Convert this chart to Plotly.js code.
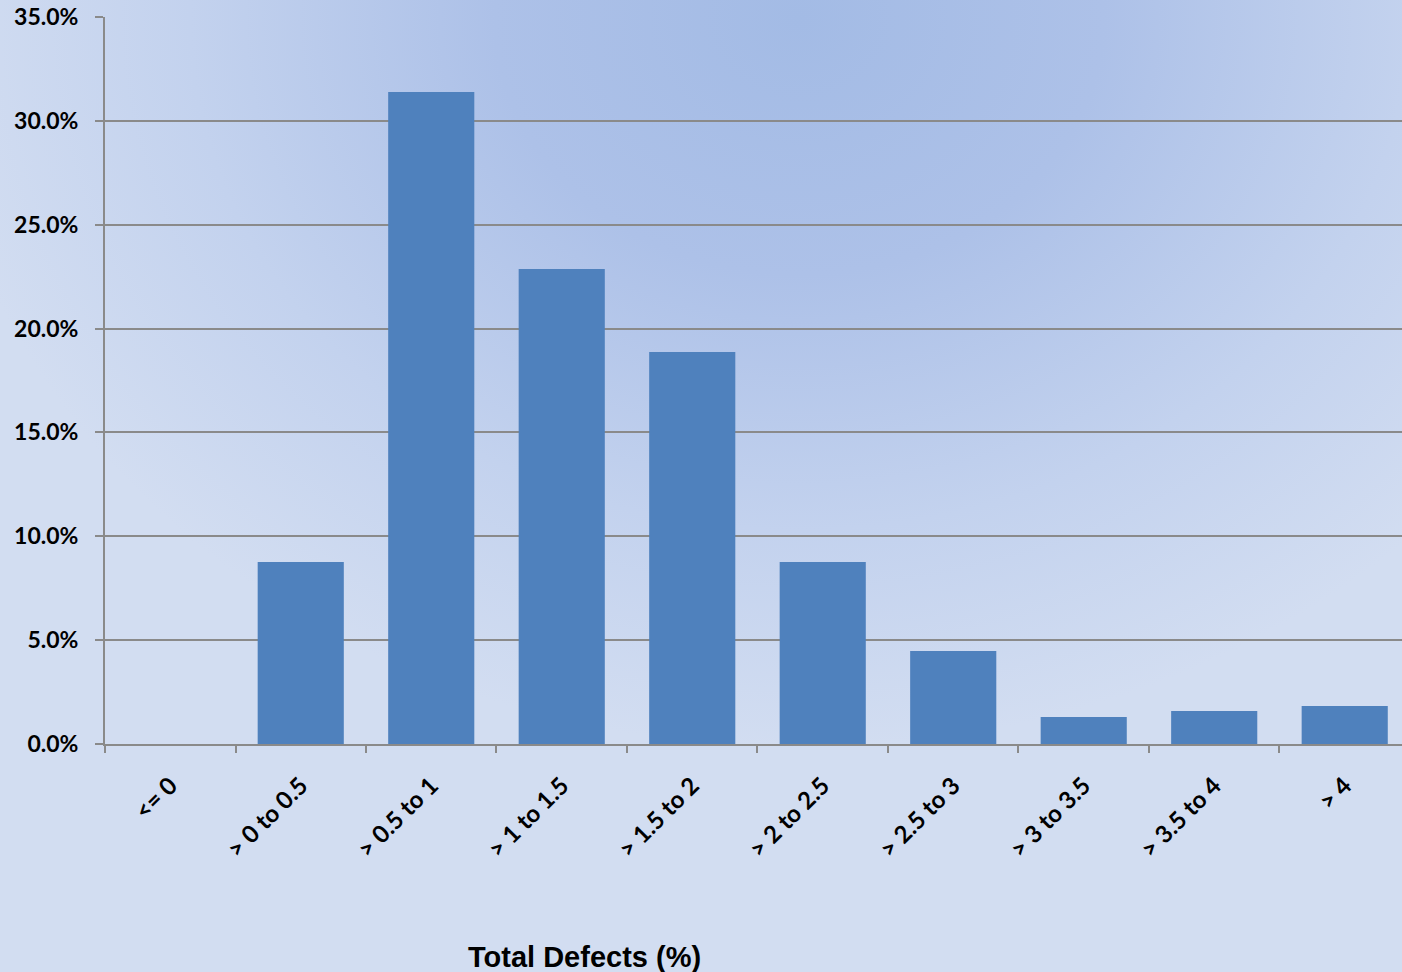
<!DOCTYPE html>
<html>
<head>
<meta charset="utf-8">
<script src="https://cdn.plot.ly/plotly-3.0.1.min.js"></script>
<style>
html, body { margin:0; padding:0; width:1402px; height:972px; overflow:hidden; }
body { background: radial-gradient(ellipse 62% 75% at 57% 2%, #a3bbe5 0%, #adc1e8 35%, #c3d2ee 70%, #d2ddf1 100%); }
#chart { width:1402px; height:972px; }
</style>
</head>
<body>
<div id="chart"></div>
<script>
const categories = ["<= 0", "> 0 to 0.5", "> 0.5 to 1", "> 1 to 1.5", "> 1.5 to 2", "> 2 to 2.5", "> 2.5 to 3", "> 3 to 3.5", "> 3.5 to 4", "> 4"];
const values = [0, 8.76, 31.39, 22.87, 18.87, 8.76, 4.48, 1.30, 1.59, 1.83];
const xTitle = "Total Defects (%)";

const trace = {
  type: 'bar',
  x: categories,
  y: values,
  width: 0.66,
  marker: { color: '#4f81bd' },
  hoverinfo: 'x+y'
};

const tickFontX = { family: 'Lato, "Open Sans", sans-serif', size: 24, color: '#000', weight: 700 };
const tickFontY = { family: 'Lato, "Open Sans", sans-serif', size: 23, color: '#000', weight: 700 };

const layout = {
  width: 1402,
  height: 972,
  margin: { l: 105, r: 0, t: 17, b: 228 },
  paper_bgcolor: 'rgba(0,0,0,0)',
  plot_bgcolor: 'rgba(0,0,0,0)',
  showlegend: false,
  xaxis: {
    type: 'category',
    range: [-0.5, 9.439],
    tickangle: -45,
    tickson: 'boundaries',
    ticks: 'outside',
    ticklen: 7,
    tickwidth: 2,
    tickcolor: '#8a8a8a',
    ticklabelstandoff: 16,
    showline: true,
    linecolor: '#8a8a8a',
    linewidth: 2,
    showgrid: false,
    zeroline: false,
    tickfont: tickFontX
  },
  yaxis: {
    range: [0, 35],
    dtick: 5,
    tickformat: '.1f',
    ticksuffix: '%',
    ticks: 'outside',
    ticklen: 8,
    tickwidth: 2,
    tickcolor: '#8a8a8a',
    ticklabelstandoff: 12,
    showline: true,
    linecolor: '#8a8a8a',
    linewidth: 2,
    showgrid: true,
    gridcolor: '#8a8a8a',
    gridwidth: 2,
    zeroline: false,
    tickfont: tickFontY
  },
  annotations: [{
    text: '<b>' + xTitle + '</b>',
    xref: 'paper', yref: 'paper',
    x: 0.37, y: -0.293,
    xanchor: 'center', yanchor: 'middle',
    showarrow: false,
    font: { family: '"Liberation Sans", Arial, sans-serif', size: 29, color: '#000' }
  }]
};

Plotly.newPlot('chart', [trace], layout, { displayModeBar: false, staticPlot: true });
</script>
</body>
</html>
